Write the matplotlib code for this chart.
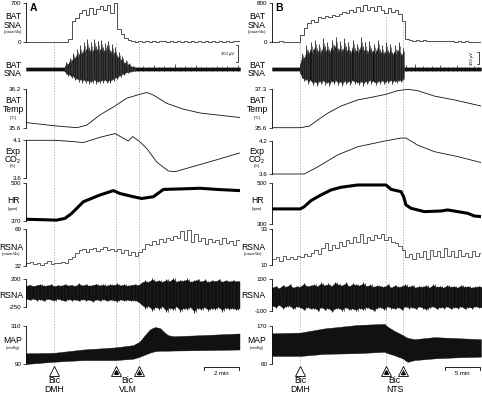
import numpy as np
import matplotlib
matplotlib.use("Agg")
import matplotlib.pyplot as plt

plt.rcParams['font.family'] = ['Liberation Sans', 'DejaVu Sans']

# ---------------- Panel A (min; Bic into DMH, then VLM) ----------------
evA = [1.6, 5.14, 6.46]
binA = 0.2  # min per power bin
batpowA = [5, 4, 6, 5, 4, 6, 5, 4, 5, 6,
           5, 5, 60, 380, 420, 520, 560, 480, 610, 500,
           590, 640, 560, 650, 520, 690, 240, 150, 80, 40,
           15, 10, 20, 12, 18, 10, 25, 12, 20, 15,
           10, 22, 12, 18, 10, 25, 14, 20, 12, 18,
           10, 20, 14, 22, 12, 18, 10, 16, 12, 20,
           15]
# raw BAT SNA envelope (uV): baseline, burst (0.1 min steps from 2.2), after (0.3 min steps from 6.4)
batrawA_burst_up = [40, 120, 90, 200, 150, 280, 220, 350, 260, 420,
                    300, 480, 350, 520, 380, 470, 330, 530, 400, 490,
                    360, 510, 380, 460, 420, 500, 340, 440, 300, 380,
                    240, 300, 180, 230, 120, 160, 80, 110, 50, 60,
                    30]
batrawA_burst_lo = [-40, -80, -120, -100, -160, -130, -200, -170, -220, -190,
                    -240, -200, -250, -210, -260, -220, -250, -200, -260, -230,
                    -250, -210, -240, -200, -250, -220, -240, -190, -210, -160,
                    -180, -120, -140, -90, -100, -60, -70, -50, -45, -35,
                    -30]
batrawA_after_up = [30, 60, 30, 70, 30, 50, 30, 80, 30, 60,
                    30, 70, 30, 40, 30, 60, 30, 50, 30, 70]
batrawA_base = 28

tempA_t = [0, 1.62, 2.9, 3.47, 4.23, 5.09, 5.75, 6.48, 6.9, 7.28, 8.04, 8.99, 9.94, 10.9, 12.2]
tempA = [35.68, 35.63, 35.60, 35.64, 35.80, 35.94, 36.06, 36.12, 36.15, 36.11, 35.98, 35.89, 35.83, 35.80, 35.76]

co2A_t = [0, 1.62, 2.32, 3.28, 4.23, 5.09, 5.85, 6.1, 6.51, 6.9, 7.47, 8.13, 8.51, 9.56, 10.9, 12.2]
co2A = [4.10, 4.10, 4.09, 4.07, 4.14, 4.19, 4.09, 4.15, 4.08, 3.99, 3.81, 3.69, 3.68, 3.75, 3.84, 3.93]

hrA_t = [0, 1.75, 2.23, 2.61, 3.28, 4.23, 4.99, 5.37, 6.13, 6.61, 7.28, 7.85, 9.0, 9.94, 10.9, 12.2]
hrA = [375, 372, 378, 395, 435, 458, 473, 463, 452, 446, 452, 477, 479, 481, 477, 473]

rpowA = [25, 27, 24, 26, 23, 25, 28, 24, 26, 25,
         27, 26, 30, 33, 38, 42, 44, 40, 43, 45,
         41, 44, 46, 42, 44, 41, 44, 38, 42, 36,
         40, 35, 40, 44, 50, 48, 54, 50, 56, 52,
         58, 55, 60, 57, 66, 55, 68, 52, 62, 54,
         58, 50, 56, 52, 55, 50, 57, 51, 54, 49,
         55]

rrawA_up = [95, 110, 90, 105, 120, 95, 100, 115, 90, 105,
            95, 120, 100, 110, 90, 130, 100, 115, 95, 110,
            125, 100, 115, 95, 120, 105, 130, 100, 115, 95,
            110, 120, 105, 150, 180, 160, 210, 170, 190, 160,
            200, 175, 220, 165, 190, 180, 210, 160, 185, 200,
            170, 195, 160, 185, 175, 200, 165, 190, 170, 185,
            175, 180]
rrawA_lo = [-130, -145, -125, -150, -135, -160, -130, -140, -155, -130,
            -145, -165, -135, -150, -140, -160, -135, -150, -145, -170,
            -140, -155, -135, -160, -145, -150, -170, -140, -155, -145,
            -160, -150, -175, -230, -280, -250, -320, -270, -300, -260,
            -340, -280, -310, -260, -330, -290, -300, -270, -350, -280,
            -310, -270, -320, -290, -300, -270, -330, -280, -300, -290,
            -310, -300]

mapA_t = [0, 1.62, 3.28, 5.09, 6.13, 6.48, 6.9, 7.1, 7.37, 7.66, 7.9, 8.1, 8.42, 9.94, 12.2]
mapA_up = [153, 156, 175, 187, 200, 219, 270, 292, 304, 298, 275, 258, 251, 257, 267]
mapA_lo = [92, 105, 114, 114, 122, 133, 150, 158, 165, 168, 168, 168, 169, 171, 175]

# ---------------- Panel B (min; Bic into DMH, then NTS) ----------------
evB = [4.0, 16.3, 18.7]
binB = 0.5
batpowB = [15, 12, 18, 14, 16, 12, 15, 13, 150, 280,
           390, 450, 400, 500, 490, 520, 500, 540, 520, 560,
           600, 580, 640, 600, 700, 620, 740, 650, 700, 620,
           720, 640, 580, 680, 600, 650, 560, 420, 60, 40,
           35, 50, 30, 40, 25, 35, 20, 30, 20, 25,
           18, 22, 15, 20, 15, 18, 14, 16, 14, 15]
batrawB_burst_up = [200, 600, 450, 900, 700, 1000, 750, 1100, 800, 950,
                    700, 1150, 850, 1000, 750, 1100, 900, 1200, 800, 1050,
                    750, 1150, 850, 1000, 700, 1100, 800, 950, 750, 1200,
                    850, 1000, 700, 1050, 800, 950, 700, 1100, 750, 900,
                    650, 1000, 700, 950, 650, 900, 700, 1000, 600, 800]
batrawB_burst_lo = [-150, -350, -450, -400, -550, -450, -600, -500, -620, -480,
                    -580, -450, -600, -520, -640, -480, -560, -450, -600, -500,
                    -620, -470, -580, -500, -600, -450, -560, -520, -600, -480,
                    -620, -500, -580, -450, -560, -500, -600, -480, -560, -450,
                    -580, -470, -540, -450, -560, -480, -520, -450, -500, -400]
batrawB_after_up = [150, 60, 200, 60, 120, 60, 100, 60, 160, 60,
                    90, 60, 140, 60, 80, 60, 110, 60]
batrawB_base = 60

tempB_t = [0, 4.05, 5.33, 6.52, 7.95, 9.86, 12.24, 14.6, 16.3, 17.95, 19.38, 20.8, 23.19, 26.05, 29.86]
tempB = [35.6, 35.6, 35.67, 35.94, 36.24, 36.56, 36.83, 36.97, 37.08, 37.24, 37.30, 37.24, 37.00, 36.83, 36.56]

co2B_t = [0, 4.05, 4.62, 6.52, 9.38, 12.24, 16.3, 18.43, 19.14, 20.8, 23.19, 26.52, 29.86]
co2B = [3.6, 3.6, 3.6, 3.73, 3.95, 4.10, 4.21, 4.26, 4.26, 4.13, 4.01, 3.92, 3.81]

hrB_t = [0, 4.05, 4.62, 5.57, 7.0, 8.43, 9.86, 12.24, 16.3, 17.0, 18.43, 18.8, 19.14, 19.86,
         21.76, 24.14, 25.1, 27.95, 28.9, 29.86]
hrB = [374, 374, 385, 414, 441, 465, 478, 489, 489, 468, 457, 433, 393, 377,
       361, 364, 369, 353, 340, 337]

rpowB = [14, 15, 13, 16, 14, 15, 14, 16, 15, 17,
         16, 18, 20, 17, 21, 24, 20, 23, 21, 25,
         22, 26, 24, 28, 25, 30, 24, 28, 26, 29,
         27, 30, 26, 28, 25, 24, 22, 20, 15, 17,
         14, 18, 15, 19, 14, 20, 16, 19, 15, 21,
         16, 19, 15, 20, 16, 18, 15, 19, 16, 18]

rrawB_up = [50, 60, 45, 65, 55, 70, 50, 60, 55, 75,
            60, 65, 70, 60, 80, 65, 75, 60, 85, 70,
            65, 80, 60, 75, 70, 65, 80, 60, 70, 55,
            65, 60, 55, 70, 50, 65, 55, 60, 70, 55,
            65, 50, 60, 55, 65, 50, 70, 55, 60, 50,
            65, 55, 60, 50, 65, 55, 60, 50, 55, 60,
            55]
rrawB_lo = [-70, -80, -65, -85, -75, -70, -90, -75, -80, -95,
            -80, -90, -85, -100, -80, -95, -85, -105, -90, -85,
            -100, -80, -95, -90, -100, -85, -95, -80, -90, -100,
            -85, -80, -95, -75, -85, -90, -80, -95, -75, -85,
            -80, -90, -75, -85, -95, -80, -75, -90, -80, -85,
            -75, -90, -80, -85, -75, -90, -80, -85, -75, -80,
            -85]

mapB_t = [0, 4.05, 7.48, 12.24, 16.05, 16.52, 17.48, 18.67, 19.14, 19.38, 20.33, 23.19, 26.52, 29.86]
mapB_up = [149, 151, 163, 173, 176, 168, 156, 144, 138, 136, 132, 138, 135, 132]
mapB_lo = [84, 84, 90, 92, 96, 92, 86, 77, 70, 67, 72, 77, 80, 82]

# ---------------- layout (pixels) ----------------
W, H = 482, 393
fig = plt.figure(figsize=(W / 100, H / 100), dpi=100)
INK = '#111111'


def fpos(x, y):
    return x / W, 1 - y / H


def row_axes(x0, x1, T, y_hi, y_lo, v_hi, v_lo, pad=12):
    vpp = (v_hi - v_lo) / (y_lo - y_hi)
    top, bot = y_hi - pad, y_lo + pad
    ax = fig.add_axes([x0 / W, 1 - bot / H, (x1 - x0) / W, (bot - top) / H])
    ax.set_xlim(0, T)
    ax.set_ylim(v_lo - pad * vpp, v_hi + pad * vpp)
    ax.patch.set_alpha(0)
    for s in ['top', 'right', 'bottom']:
        ax.spines[s].set_visible(False)
    ax.set_xticks([])
    ax.spines['left'].set_bounds(v_lo, v_hi)
    ax.spines['left'].set_linewidth(0.6)
    ax.set_yticks([v_lo, v_hi])
    ax.tick_params(axis='y', length=2.5, width=0.5, pad=0.8, labelsize=4.5)
    return ax


def raw_axes(x0, x1, T, ycen, uv_per_px, top=35, bot=90):
    ax = fig.add_axes([x0 / W, 1 - bot / H, (x1 - x0) / W, (bot - top) / H])
    ax.set_xlim(0, T)
    ax.set_ylim(-(bot - ycen) * uv_per_px, (ycen - top) * uv_per_px)
    ax.axis('off')
    return ax


def overlay(x0, x1, T):
    ov = fig.add_axes([x0 / W, 0, (x1 - x0) / W, 1])
    ov.set_xlim(0, T)
    ov.set_ylim(H, 0)
    ov.axis('off')
    return ov


panels = [
    dict(x0=26, x1=240, T=214 / 17.5, ev=evA, lab_x=13, rsna_x=11, letter='A', site='VLM',
         line_top=[43, 43, 43], bar=2, batpow=batpowA, binw=binA, powmax=700,
         rawscale=17.6, rawbar=300, burst_t0=2.2, burst_dt=0.1,
         burst_up=batrawA_burst_up, burst_lo=batrawA_burst_lo,
         after_t0=6.4, after_dt=0.3, after_up=batrawA_after_up, base=batrawA_base,
         temp=(tempA_t, tempA, 36.2, 35.6, '36.2', '35.6'),
         co2=(co2A_t, co2A, 4.1, 3.6, '4.1', '3.6'), co2_px=(140.3, 177.7),
         hr=(hrA_t, hrA, 500, 370), hr_px=(182.7, 220.7),
         rpow=rpowA, rpow_lim=(69, 22), rpow_px=(229, 265.7),
         rraw=(rrawA_up, rrawA_lo, 200, -250, '200', '-250'), rraw_px=(279, 306.7),
         map=(mapA_t, mapA_up, mapA_lo, 310, 90)),
    dict(x0=272, x1=481, T=209 / 7, ev=evB, lab_x=257, rsna_x=253, letter='B', site='NTS',
         line_top=[37, 17, 23], bar=5, batpow=batpowB, binw=binB, powmax=800,
         rawscale=37.5, rawbar=450, burst_t0=4.0, burst_dt=0.3,
         burst_up=batrawB_burst_up, burst_lo=batrawB_burst_lo,
         after_t0=19.2, after_dt=0.6, after_up=batrawB_after_up, base=batrawB_base,
         temp=(tempB_t, tempB, 37.3, 35.6, '37.3', '35.6'),
         co2=(co2B_t, co2B, 4.2, 3.6, '4.2', '3.6'), co2_px=(141.3, 174),
         hr=(hrB_t, hrB, 500, 300), hr_px=(182.7, 224.3),
         rpow=rpowB, rpow_lim=(33, 10), rpow_px=(229, 265.3),
         rraw=(rrawB_up, rrawB_lo, 100, -100, '100', '-100'), rraw_px=(279.3, 311),
         map=(mapB_t, mapB_up, mapB_lo, 170, 60)),
]

for p in panels:
    x0, x1, T = p['x0'], p['x1'], p['T']
    lx = p['lab_x']
    px_t = T / (x1 - x0)  # minutes per pixel

    # dashed event lines, markers, labels, time bar
    ov = overlay(x0, x1, T)
    for t, ytop in zip(p['ev'], p['line_top']):
        ov.plot([t, t], [ytop, 365], color='#a0a0a0', lw=0.5, ls=(0, (2, 2)))
    for i, t in enumerate(p['ev']):
        ov.plot(t, 370.5, marker='^', ms=6.5, mfc='white', mec='black', mew=0.6, zorder=5)
        if i == 1:
            ov.plot(t, 372, marker='^', ms=2.6, color='black', zorder=6)
        if i == 2:
            ov.plot(t, 372, marker='^', ms=3.2, mfc='white', mec='black', mew=0.5, zorder=6)
            ov.plot(t, 372.6, marker='^', ms=1.6, color='black', zorder=7)
    ov.text(p['ev'][0], 380.5, 'Bic', ha='center', va='center', fontsize=6.2)
    ov.text(p['ev'][0], 389, 'DMH', ha='center', va='center', fontsize=6.2)
    mid = (p['ev'][1] + p['ev'][2]) / 2
    ov.text(mid, 380.5, 'Bic', ha='center', va='center', fontsize=6.2)
    ov.text(mid, 389, p['site'], ha='center', va='center', fontsize=6.2)
    b1 = T - 1.0 * px_t
    b0 = b1 - p['bar']
    ov.plot([b0, b0, b1, b1], [369.5, 367, 367, 369.5], color='black', lw=0.6)
    ov.text((b0 + b1) / 2, 373.5, '%d min' % p['bar'], ha='center', va='center', fontsize=4.3)

    fig.text(*fpos(x0 + 7, 8), p['letter'], fontsize=7.5, fontweight='bold', ha='center', va='center')

    # BAT SNA power
    ax = row_axes(x0, x1, T, 2.5, 42.3, p['powmax'], 0)
    ax.set_yticklabels(['0', str(p['powmax'])])
    edges = np.arange(len(p['batpow']) + 1) * p['binw']
    ax.stairs(p['batpow'], edges, baseline=None, color='#333333', lw=0.6)
    fig.text(*fpos(lx, 21), 'BAT\nSNA', fontsize=6.2, ha='center', va='center', linespacing=0.95)
    fig.text(*fpos(lx, 32), '(power/4s)', fontsize=2.8, ha='center', va='center')

    # BAT SNA raw: dense core plus spikes
    ax = raw_axes(x0, x1, T, 69, p['rawscale'])
    bt = p['burst_t0'] + p['burst_dt'] * np.arange(len(p['burst_up']))
    at = p['after_t0'] + p['after_dt'] * np.arange(len(p['after_up']))
    base = p['base']
    bu = np.array(p['burst_up'], float)
    bl = np.array(p['burst_lo'], float)
    tt = np.r_[0, p['burst_t0'] - 0.05, bt, bt[-1] + 0.1, T]
    up = np.r_[base, base, np.maximum(bu * 0.75, base), base, base]
    lo = np.r_[-base, -base, np.minimum(bl * 0.85, -base), -base, -base]
    ax.fill_between(tt, lo, up, color=INK, lw=0.3, edgecolor=INK)
    ax.vlines(bt, bl, bu, color='#222222', lw=0.6)
    ax.vlines(bt + p['burst_dt'] / 2, bl * 0.9, bu * 0.85, color='#444444', lw=0.5)
    ax.vlines(at, -base, p['after_up'], color=INK, lw=0.5)
    sb_t = T - (2.0 if p['letter'] == 'A' else 2.5) * px_t
    top_uv = 420 if p['letter'] == 'A' else 637
    tk = 2.0 * px_t
    ax.plot([sb_t - tk, sb_t, sb_t, sb_t - tk], [top_uv, top_uv, top_uv - p['rawbar'], top_uv - p['rawbar']],
            color='black', lw=0.5, clip_on=False)
    if p['letter'] == 'A':
        ax.text(sb_t - 2 * tk, top_uv - p['rawbar'] / 2, '300 µV', fontsize=3, ha='right', va='center')
    else:
        ax.text(sb_t - 3.5 * tk, top_uv - p['rawbar'] / 2, '450 µV', fontsize=3, ha='center', va='center',
                rotation=90)
    fig.text(*fpos(lx, 69.5), 'BAT\nSNA', fontsize=6.2, ha='center', va='center', linespacing=0.95)

    # BAT temperature
    tt_, vv, hi, lo_, shi, slo = p['temp']
    ax = row_axes(x0, x1, T, 89.3, 127.7, hi, lo_)
    ax.set_yticklabels([slo, shi])
    ax.plot(tt_, vv, color=INK, lw=0.6)
    fig.text(*fpos(lx, 105), 'BAT\nTemp', fontsize=6.2, ha='center', va='center', linespacing=0.95)
    fig.text(*fpos(lx, 118), '(°C)', fontsize=2.8, ha='center', va='center')

    # expired CO2
    tt_, vv, hi, lo_, shi, slo = p['co2']
    ax = row_axes(x0, x1, T, p['co2_px'][0], p['co2_px'][1], hi, lo_)
    ax.set_yticklabels([slo, shi])
    ax.plot(tt_, vv, color=INK, lw=0.6)
    fig.text(*fpos(lx, 155.5), 'Exp\nCO₂', fontsize=6.2, ha='center', va='center', linespacing=0.95)
    fig.text(*fpos(lx, 166.5), '(%)', fontsize=2.8, ha='center', va='center')

    # heart rate
    tt_, vv, hi, lo_ = p['hr']
    ax = row_axes(x0, x1, T, p['hr_px'][0], p['hr_px'][1], hi, lo_)
    ax.set_yticklabels([str(lo_), str(hi)])
    ax.plot(tt_, vv, color='black', lw=2.2, solid_joinstyle='round')
    fig.text(*fpos(lx, 201), 'HR', fontsize=6.2, ha='center', va='center')
    fig.text(*fpos(lx, 208.5), '(bpm)', fontsize=2.8, ha='center', va='center')

    # RSNA power
    hi, lo_ = p['rpow_lim']
    ax = row_axes(x0, x1, T, p['rpow_px'][0], p['rpow_px'][1], hi, lo_)
    ax.set_yticklabels([str(lo_), str(hi)])
    edges = np.arange(len(p['rpow']) + 1) * p['binw']
    ax.stairs(p['rpow'], edges, baseline=None, color='#444444', lw=0.6)
    fig.text(*fpos(p['rsna_x'], 247), 'RSNA', fontsize=6.2, ha='center', va='center')
    fig.text(*fpos(p['rsna_x'], 253.5), '(power/4s)', fontsize=2.8, ha='center', va='center')

    # RSNA raw: dense band plus spikes
    up, lo, hi, lo_, shi, slo = p['rraw']
    ax = row_axes(x0, x1, T, p['rraw_px'][0], p['rraw_px'][1], hi, lo_)
    ax.set_yticklabels([slo, shi])
    rt = np.arange(len(up)) * p['binw']
    ua, la = np.array(up, float), np.array(lo, float)
    ax.fill_between(rt, la * 0.92, ua * 0.92, color=INK, lw=0.3, edgecolor=INK)
    ax.vlines(rt, la, ua, color=INK, lw=0.6)
    ax.vlines(rt + p['binw'] / 2, la * 0.97, ua * 0.97, color='#222222', lw=0.5)
    fig.text(*fpos(p['rsna_x'], 295), 'RSNA', fontsize=6.2, ha='center', va='center')

    # MAP
    mt, mu, ml, hi, lo_ = p['map']
    ax = row_axes(x0, x1, T, 326, 364.3, hi, lo_)
    ax.set_yticklabels([str(lo_), str(hi)])
    ax.fill_between(mt, ml, mu, color=INK, lw=0.3, edgecolor=INK)
    fig.text(*fpos(lx, 340.5), 'MAP', fontsize=6.2, ha='center', va='center')
    fig.text(*fpos(lx, 347.5), '(mmHg)', fontsize=2.8, ha='center', va='center')

fig.savefig('out.png', dpi=100)
